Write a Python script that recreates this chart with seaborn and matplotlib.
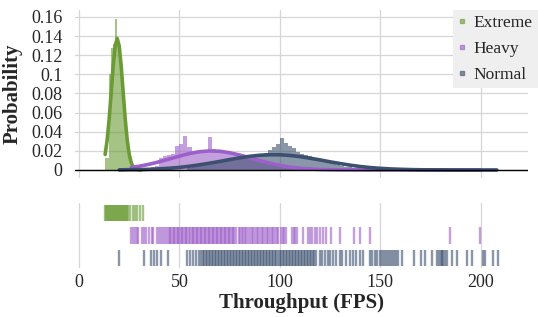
"""Throughput distribution per load level: histogram + normal fit on top, rug strip below."""

import matplotlib

matplotlib.use("Agg")
import matplotlib.pyplot as plt
import numpy as np
import seaborn as sns
from matplotlib.lines import Line2D
from matplotlib.ticker import FuncFormatter

sns.set_style("whitegrid")
plt.rcParams["font.family"] = ["Liberation Serif", "DejaVu Serif"]

# --- Data ---
LEVELS = ["Extreme", "Heavy", "Normal"]
COLORS = {"Extreme": "#6b9b35", "Heavy": "#9d5fc9", "Normal": "#3d5070"}

# histogram bins: left edges and probability heights
extreme_bin_width = 1
extreme_bin_left = [13, 14, 15, 16, 17, 18, 19, 20, 21, 22, 23, 24, 25, 26]
extreme_bin_height = [0.012, 0.013, 0.100, 0.128, 0.132, 0.158, 0.136, 0.118,
                      0.085, 0.060, 0.035, 0.020, 0.008, 0.003]

heavy_bin_width = 2
heavy_bin_left = [26, 28, 30, 32, 34, 36, 38, 40, 42, 44, 46, 48, 50, 52, 54, 56,
                  58, 60, 62, 64, 66, 68, 70, 72, 74, 76, 78, 80, 82, 84, 86, 88,
                  90, 92, 94, 96, 98, 100, 102, 104, 106, 108, 110, 112, 114, 116,
                  118, 120, 122, 124]
heavy_bin_height = [0.001, 0.001, 0.002, 0.002, 0.002, 0.003, 0.004, 0.012, 0.015,
                    0.016, 0.017, 0.025, 0.027, 0.036, 0.024, 0.019, 0.018, 0.018,
                    0.019, 0.034, 0.022, 0.021, 0.019, 0.019, 0.018, 0.017, 0.016,
                    0.014, 0.013, 0.013, 0.012, 0.010, 0.009, 0.009, 0.008, 0.007,
                    0.006, 0.005, 0.004, 0.004, 0.003, 0.003, 0.002, 0.002, 0.002,
                    0.001, 0.001, 0.001, 0.0005, 0.0005]

normal_bin_width = 2
normal_bin_left = [54, 56, 58, 60, 62, 64, 66, 68, 70, 72, 74, 76, 78, 80, 82, 84,
                   86, 88, 90, 92, 94, 96, 98, 100, 102, 104, 106, 108, 110, 112,
                   114, 116, 118, 120, 122, 124, 126, 128, 130, 132, 134, 136, 138,
                   140, 142, 144, 146, 148, 150, 152, 154, 156, 158]
normal_bin_height = [0.002, 0.003, 0.004, 0.005, 0.006, 0.007, 0.008, 0.009, 0.010,
                     0.010, 0.011, 0.012, 0.012, 0.014, 0.015, 0.015, 0.016, 0.016,
                     0.017, 0.018, 0.021, 0.024, 0.027, 0.033, 0.028, 0.025, 0.023,
                     0.019, 0.017, 0.016, 0.015, 0.012, 0.010, 0.009, 0.008, 0.007,
                     0.006, 0.005, 0.004, 0.003, 0.003, 0.002, 0.002, 0.0015, 0.0015,
                     0.0015, 0.0015, 0.0015, 0.0015, 0.001, 0.001, 0.001, 0.001]

# fitted normal curves (x, density)
extreme_fit_x = [13, 14, 15, 16, 17, 18, 19, 20, 21, 22, 23, 24, 25, 26, 27, 28,
                 29, 30, 31]
extreme_fit_y = [0.0162, 0.0311, 0.0532, 0.0806, 0.1085, 0.1297, 0.1376, 0.1297,
                 0.1085, 0.0806, 0.0532, 0.0311, 0.0162, 0.0075, 0.0031, 0.0011,
                 0.0004, 0.0001, 0.0000]

heavy_fit_x = [26, 30, 35, 40, 45, 50, 55, 60, 65, 70, 75, 80, 85, 90, 95, 100,
               105, 110, 115, 120, 125, 130, 140, 160, 180, 200]
heavy_fit_y = [0.0027, 0.0039, 0.0060, 0.0086, 0.0115, 0.0145, 0.0172, 0.0191,
               0.0199, 0.0196, 0.0180, 0.0156, 0.0127, 0.0097, 0.0070, 0.0047,
               0.0030, 0.0018, 0.0010, 0.0005, 0.0003, 0.0001, 0.0, 0.0, 0.0, 0.0]

normal_fit_x = [20, 25, 30, 35, 40, 45, 50, 55, 60, 65, 70, 75, 80, 85, 90, 95,
                100, 105, 110, 115, 120, 125, 130, 135, 140, 145, 150, 155, 160,
                165, 170, 180, 190, 200, 208]
normal_fit_y = [0.0001, 0.0003, 0.0004, 0.0007, 0.0012, 0.0018, 0.0027, 0.0039,
                0.0054, 0.0071, 0.0089, 0.0109, 0.0127, 0.0143, 0.0154, 0.0159,
                0.0159, 0.0152, 0.0140, 0.0123, 0.0105, 0.0085, 0.0067, 0.0050,
                0.0036, 0.0025, 0.0017, 0.0011, 0.0007, 0.0004, 0.0002, 0.0001,
                0.0, 0.0, 0.0]

# individual observations shown in the rug strip
extreme_obs = [13, 13.5, 14, 14.5, 15, 15.5, 16, 16.5, 17, 17.5, 18, 18.5, 19,
               19.5, 20, 20.5, 21, 21.5, 22, 22.5, 23, 23.5, 24, 24.6, 25.4, 26.7,
               27.9, 29.0, 30.3, 31.7]
heavy_obs = [25.7, 26.7, 27.9, 28.7, 29.5, 31.5, 32.3, 33.3, 35.0, 36.2, 37.0,
             38.7, 40.0, 40.8, 41.9, 42.8,
             44, 44.6, 45.3, 46, 46.7, 47.3, 48, 48.6, 49.3, 50, 50.6, 51.3, 52,
             52.6, 53.3, 54, 54.7, 55.3, 56, 56.6, 57.3, 58, 58.7, 59.3, 60, 60.7,
             61.3, 62, 62.6, 63.3, 64, 64.7, 65.3, 66, 66.6, 67.3, 68, 68.7, 69.3,
             70, 70.6, 71.3, 72, 72.7, 73.3, 74, 74.6, 75.3, 76, 76.7, 77.3, 78,
             79.5, 80.2, 81, 81.8, 82.5, 83.3, 84, 85.2, 86, 86.8, 87.5, 88.5,
             89.3, 90, 91, 91.8, 92.5, 93.5, 94.2, 95, 96, 96.8, 97.5, 98.5, 99.3,
             100.5, 101.3, 102, 103, 106, 106.8, 107.5, 108.3,
             111.6, 114.0, 115.0, 115.8, 117.4, 118.5, 119.9, 121.5, 122.9, 125.4,
             129.9, 136.8, 139.8, 144.7, 184.6, 199.8]
normal_obs = [20, 32.5, 35.8, 37.5, 38.6, 40.8, 44.4, 53.6, 55, 56.8, 58.3, 59.5,
              60.5, 61.5, 62.3, 63, 63.8, 64.5, 65.3, 66, 66.8, 67.5, 68.3, 69,
              69.8, 70.5, 71.3, 72, 72.8, 73.5, 74.3, 75, 75.8, 76.5, 77.3, 78,
              78.8, 79.5, 80.3, 81, 81.8, 82.5, 83.3, 84, 84.8, 85.5, 86.3, 87,
              87.8, 88.5, 89.3, 90, 90.8, 91.5, 92.3, 93, 93.8, 94.5, 95.3, 96,
              96.8, 97.5, 98.3, 99, 99.8, 100.5, 101.3, 102, 102.8, 103.5, 104.3,
              105, 105.8, 106.5, 107.3, 108, 108.8, 109.5, 110.3, 111, 111.8,
              112.5, 113.3, 114, 114.8, 115.5, 116.3, 117, 118,
              120, 121, 122.5, 124, 125, 126.5, 128, 130, 131, 133, 135, 136.5,
              138, 140, 141.5, 145, 146, 147.5, 148.5, 150, 151, 152, 153, 154,
              155, 156, 157, 158, 159, 161, 167, 170, 172, 175.5, 178, 179, 180,
              180.5, 181, 182, 183, 185.5, 188.2, 192.9, 195.4, 201.1, 202, 206.1,
              208.6]

X_TICKS = [0, 50, 100, 150, 200]
Y_TICKS = [0, 0.02, 0.04, 0.06, 0.08, 0.10, 0.12, 0.14, 0.16]

hist_data = {
    "Extreme": (extreme_bin_left, extreme_bin_height, extreme_bin_width),
    "Heavy": (heavy_bin_left, heavy_bin_height, heavy_bin_width),
    "Normal": (normal_bin_left, normal_bin_height, normal_bin_width),
}
fit_data = {
    "Extreme": (extreme_fit_x, extreme_fit_y),
    "Heavy": (heavy_fit_x, heavy_fit_y),
    "Normal": (normal_fit_x, normal_fit_y),
}
rug_data = {"Extreme": extreme_obs, "Heavy": heavy_obs, "Normal": normal_obs}

W, H = 538, 317
fig = plt.figure(figsize=(W / 100, H / 100), dpi=100)
ax = fig.add_axes([75 / W, 1 - 178 / H, 453 / W, 168 / H])
ax_rug = fig.add_axes([75 / W, 1 - 268 / H, 453 / W, 65 / H], sharex=ax)

grid_kw = dict(color="#d6d6d6", linewidth=0.9)

# --- top: histograms then fitted curves ---
for name in LEVELS:
    left, height, width = hist_data[name]
    centers = np.array(left) + width / 2
    sns.histplot(
        x=centers,
        weights=height,
        binwidth=width,
        binrange=(left[0], left[-1] + width),
        ax=ax,
        color=COLORS[name],
        alpha=0.6,
        linewidth=0,
        element="bars",
    )
for name in LEVELS:
    fx, fy = fit_data[name]
    sns.lineplot(x=fx, y=fy, ax=ax, color=COLORS[name], linewidth=2.6,
                 sort=False, estimator=None)

ax.axhline(0, color="black", linewidth=1.0, zorder=5)
ax.set_xlim(-2, 223.5)
ax.set_ylim(-0.0084, 0.1673)
ax.set_xticks(X_TICKS)
ax.set_yticks(Y_TICKS)
ax.yaxis.set_major_formatter(FuncFormatter(lambda v, _: f"{v:g}"))
ax.tick_params(axis="x", labelbottom=False, length=0)
ax.tick_params(axis="y", length=0, pad=9, labelsize=13)
ax.grid(True, **grid_kw)
ax.set_axisbelow(True)
for s in ax.spines.values():
    s.set_visible(False)
ax.set_xlabel("")
ax.set_ylabel("Probability", fontsize=15, fontweight="bold", labelpad=6)

handles = [
    Line2D([], [], linestyle="none", marker="s", markersize=3.2,
           color=COLORS[n], alpha=0.6, label=n)
    for n in LEVELS
]
leg = ax.legend(
    handles=handles,
    loc="upper right",
    bbox_to_anchor=(1.022, 1.0),
    fontsize=12.5,
    frameon=True,
    facecolor="#efefef",
    edgecolor="none",
    framealpha=1,
    fancybox=False,
    handlelength=0.5,
    handletextpad=0.4,
    labelspacing=0.55,
    borderpad=0.3,
    borderaxespad=0,
)

# --- bottom: rug strip, one row per level ---
for row, name in enumerate(LEVELS):
    ax_rug.vlines(rug_data[name], row - 0.36, row + 0.36,
                  color=COLORS[name], linewidth=1.7, alpha=0.6)
ax_rug.set_ylim(2.444, -0.444)
ax_rug.set_yticks([])
ax_rug.set_xticks(X_TICKS)
ax_rug.tick_params(axis="x", length=0, pad=4, labelsize=13)
ax_rug.grid(True, axis="x", **grid_kw)
ax_rug.grid(False, axis="y")
ax_rug.set_axisbelow(True)
for s in ax_rug.spines.values():
    s.set_visible(False)
ax_rug.set_xlabel("Throughput (FPS)", fontsize=15, fontweight="bold", labelpad=2)

fig.savefig("out.png", dpi=100)
